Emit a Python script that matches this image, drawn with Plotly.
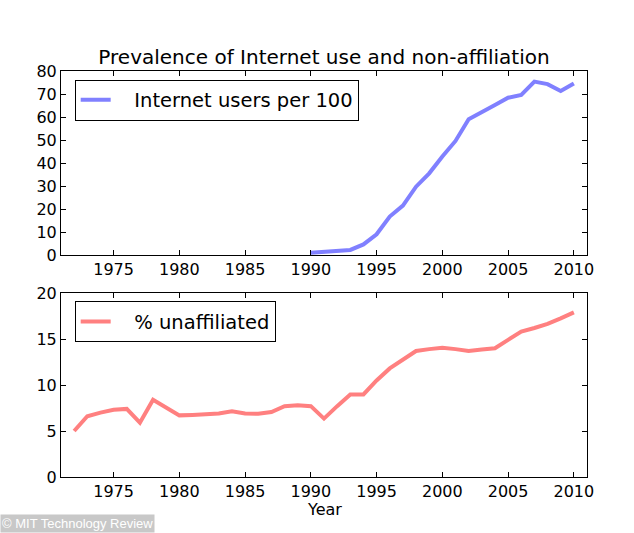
import plotly.graph_objects as go
from plotly.subplots import make_subplots

# Data
internet_years = list(range(1990, 2011))
internet_users = [1.0, 1.3, 1.9, 2.2, 4.6, 9.0, 16.7, 21.5, 29.7, 35.5, 42.8,
                  49.6, 59.0, 61.9, 65.2, 68.4, 69.6, 75.4, 74.3, 71.3, 74.6]

unaff_years = list(range(1972, 2011))
unaffiliated = [5.0, 6.6, 7.0, 7.3, 7.4, 5.9, 8.4, 7.6, 6.7, 6.75,
                6.8, 6.9, 7.15, 6.9, 6.87, 7.07, 7.7, 7.8, 7.7, 6.35,
                7.7, 8.97, 8.97, 10.5, 11.8, 12.7, 13.7, 13.9, 14.05, 13.9,
                13.7, 13.85, 14.0, 14.9, 15.8, 16.2, 16.65, 17.25, 17.9]

x_ticks = [1975, 1980, 1985, 1990, 1995, 2000, 2005, 2010]
top_y_ticks = [0, 10, 20, 30, 40, 50, 60, 70, 80]
bot_y_ticks = [0, 5, 10, 15, 20]

FONT = "DejaVu Sans"
GAP = "\u00a0\u00a0\u00a0"

fig = make_subplots(rows=2, cols=1, shared_xaxes=False, vertical_spacing=0.0)

fig.add_trace(go.Scatter(x=internet_years, y=internet_users, mode="lines",
                         name=GAP + "Internet users per 100",
                         line=dict(color="#8080ff", width=4),
                         legend="legend"), row=1, col=1)
fig.add_trace(go.Scatter(x=unaff_years, y=unaffiliated, mode="lines",
                         name=GAP + "% unaffiliated",
                         line=dict(color="#ff8080", width=4),
                         legend="legend2"), row=2, col=1)

axis_common = dict(showline=True, linecolor="black", linewidth=1, mirror="ticks",
                   ticks="inside", ticklen=5, tickcolor="black", showgrid=False,
                   zeroline=False, tickfont=dict(family=FONT, size=16, color="black"))

fig.update_xaxes(range=[1971, 2011], tickvals=x_ticks, domain=[0, 1], **axis_common)
fig.update_yaxes(range=[0, 80], tickvals=top_y_ticks, domain=[0.5468, 1.0],
                 row=1, col=1, **axis_common)
fig.update_yaxes(range=[0, 20], tickvals=bot_y_ticks, domain=[0.0, 0.4532],
                 row=2, col=1, **axis_common)

legend_style = dict(bgcolor="white", bordercolor="black", borderwidth=1,
                    font=dict(family=FONT, size=19.5, color="black"),
                    xanchor="left", yanchor="top")

fig.update_layout(
    width=634, height=533,
    margin=dict(l=61, r=47, t=71, b=56),
    paper_bgcolor="white", plot_bgcolor="white",
    showlegend=True,
    title=dict(text="Prevalence of Internet use and non-affiliation",
               font=dict(family=FONT, size=20, color="black"),
               x=0.5, xanchor="center", xref="paper", y=1 - 57 / 533, yanchor="middle"),
    legend=dict(x=0.026, y=0.979, **legend_style),
    legend2=dict(x=0.026, y=0.433, **legend_style),
    annotations=[
        dict(text="Year", xref="paper", yref="paper", x=0.5, y=-(498 - 477) / 406,
             xanchor="center", yanchor="top", showarrow=False,
             font=dict(family=FONT, size=16, color="black")),
        dict(text="© MIT Technology Review", xref="paper", yref="paper",
             x=-61 / 526, y=-56 / 406, xanchor="left", yanchor="bottom",
             showarrow=False, bgcolor="#c8c8c8",
             font=dict(family="Liberation Sans", size=13, color="white")),
    ],
)

fig.write_html("out.html")
